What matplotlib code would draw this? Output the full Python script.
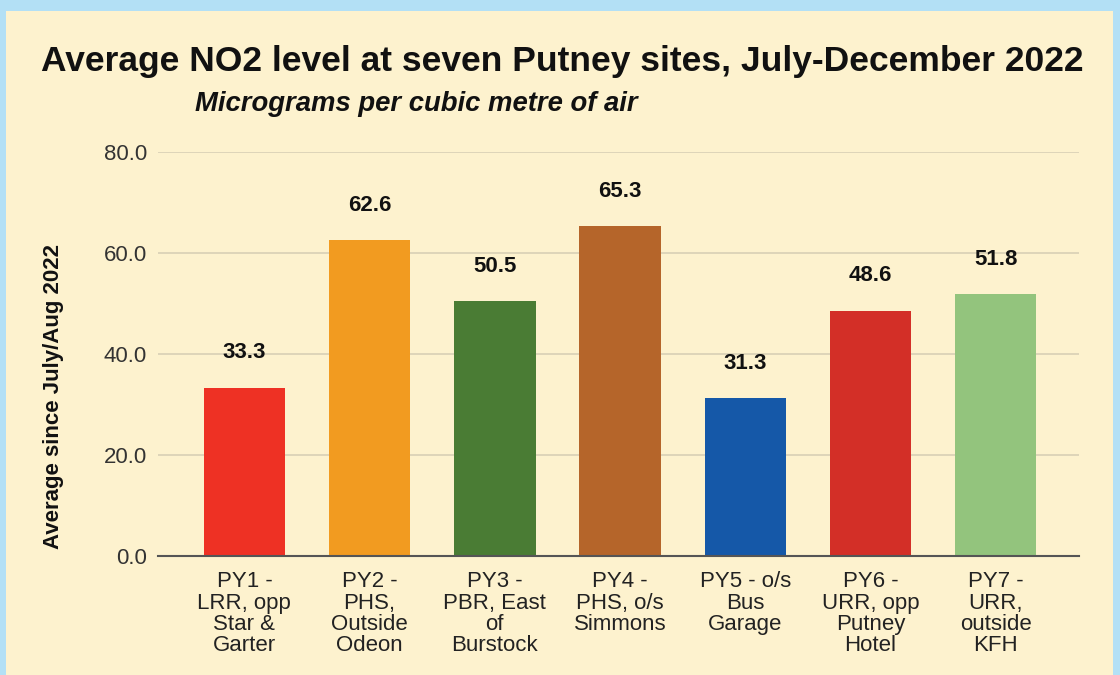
import matplotlib
matplotlib.use("Agg")
import matplotlib.pyplot as plt
from matplotlib.patches import Rectangle

plt.rcParams['font.family'] = ['Liberation Sans', 'DejaVu Sans']

categories = ["PY1 -\nLRR, opp\nStar &\nGarter", "PY2 -\nPHS,\nOutside\nOdeon",
              "PY3 -\nPBR, East\nof\nBurstock", "PY4 -\nPHS, o/s\nSimmons",
              "PY5 - o/s\nBus\nGarage", "PY6 -\nURR, opp\nPutney\nHotel",
              "PY7 -\nURR,\noutside\nKFH"]
values = [33.3, 62.6, 50.5, 65.3, 31.3, 48.6, 51.8]
colors = ["#EE3124", "#F29B20", "#4A7C34", "#B5652A", "#1558A8", "#D32F27", "#93C47D"]
yticks = [0, 20, 40, 60, 80]

W, H = 1120, 675
fig = plt.figure(figsize=(W/100, H/100), dpi=100)
fig.patch.set_facecolor("#B3E0F5")
fig.add_artist(Rectangle((6/W, 0), (1113-6)/W, (H-11)/H, transform=fig.transFigure,
                         facecolor="#FDF2CE", edgecolor="none", zorder=0))

ax = fig.add_axes([158/W, 1-556/H, (1079-158)/W, (556-152)/H])
ax.set_facecolor("none")
x = list(range(len(values)))
ax.bar(x, values, width=0.65, color=colors, zorder=3)
for xi, v in zip(x, values):
    ax.text(xi, v + 6.9, f"{v:.1f}", ha="center", va="center", fontsize=16,
            fontweight="bold", color="#111111", zorder=5)
ax.set_xlim(-0.69, 6.665)
ax.set_ylim(0, 80)
ax.set_yticks(yticks)
ax.set_yticklabels([f"{t:.1f}" for t in yticks], fontsize=16, color="#333333")
ax.set_xticks(x)
ax.set_xticklabels(categories, fontsize=16, color="#222222", linespacing=1.02, va="top")
ax.tick_params(axis="y", length=0, pad=8)
ax.tick_params(axis="x", length=0, pad=11)
ax.grid(axis="y", color="#D8D0B5", linewidth=1.2, zorder=1)
for s in ["top", "right", "left"]:
    ax.spines[s].set_visible(False)
ax.spines["bottom"].set_color("#555555")
ax.spines["bottom"].set_linewidth(1.5)
ax.spines["bottom"].set_zorder(4)
ax.set_ylabel("Average since July/Aug 2022", fontsize=16, fontweight="bold",
              color="#111111", va="center")
ax.yaxis.set_label_coords(-0.114, 0.394)

fig.text(562/W, 1-62/H, "Average NO2 level at seven Putney sites, July-December 2022",
         ha="center", va="center", fontsize=25.5, fontweight="bold", color="#111111")
fig.text(195/W, 1-104/H, "Micrograms per cubic metre of air", ha="left", va="center",
         fontsize=19.8, fontweight="bold", fontstyle="italic", color="#111111")

fig.savefig("out.png", dpi=100, facecolor=fig.get_facecolor())
